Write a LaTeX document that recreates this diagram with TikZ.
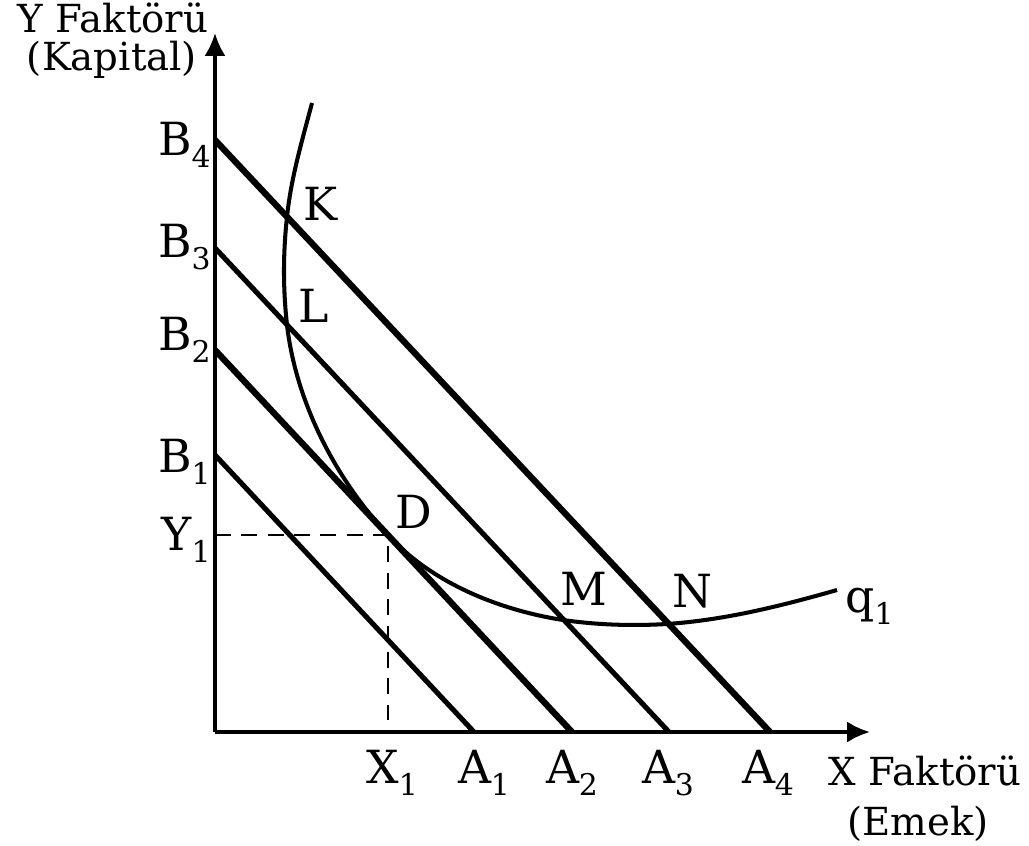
\documentclass[tikz,border=0pt]{standalone}
\usepackage{fontspec}
\setmainfont{DejaVu Serif}
\usetikzlibrary{arrows.meta}
\newcommand{\lowsub}[1]{\raisebox{-7pt}{\fontsize{17}{17}\selectfont #1}}

\begin{document}
\begin{tikzpicture}[x=0.02cm, y=-0.02cm,
        axis/.style={line width=2pt, -{Latex[length=13pt, width=12pt]}},
        heavy/.style={line width=3.6pt},
        light/.style={line width=2.9pt},
        lbl/.style={font=\fontsize{26}{30}\selectfont, inner sep=0pt},
        axislbl/.style={font=\fontsize{22}{26}\selectfont, inner sep=0pt}]
    \useasboundingbox (0,0) rectangle (1029,846);
    % Axes
        \coordinate (O) at (215,732);
        \coordinate (ytip) at (215,33);
        \coordinate (xtip) at (870,732);
        \draw[axis] (O) -- (ytip);
        \draw[axis] (O) -- (xtip);
    % Isocost lines
        \coordinate (B4) at (215,140);
        \coordinate (B3) at (215,248);
        \coordinate (B2) at (215,350);
        \coordinate (B1) at (215,455);
        \coordinate (A4) at (770,732);
        \coordinate (A3) at (669,732);
        \coordinate (A2) at (572,732);
        \coordinate (A1) at (474,732);
        \draw[heavy] (B4) -- (A4);
        \draw[light] (B3) -- (A3);
        \draw[heavy] (B2) -- (A2);
        \draw[light] (B1) -- (A1);
    % Isoquant q1
        \coordinate (top) at (312,103);
        \coordinate (K) at (287,217);
        \coordinate (L) at (287,325);
        \coordinate (D) at (388,535);
        \coordinate (M) at (563,620);
        \coordinate (N) at (667,624);
        \coordinate (end) at (837,590);
        \draw[line width=2.3pt] (top) .. controls (302,141) and (291,178) .. (K)
            .. controls (283,253) and (283,289) .. (L)
            .. controls (296,402) and (335,478) .. (D)
            .. controls (432,583) and (499,610) .. (M)
            .. controls (598,625) and (632,626) .. (N)
            .. controls (725,620) and (781,606) .. (end);
    % Optimum
        \coordinate (y1) at (215,535);
        \coordinate (x1) at (388,732);
        \draw[line width=1.5pt, dash pattern=on 9pt off 6pt] (y1) -- (D) -- (x1);
    % Labels
        \node[axislbl, anchor=base] (ytitle) at (113,32) {Y Faktörü};
        \node[axislbl, anchor=base] (ysub) at (112,70) {(Kapital)};
        \node[axislbl, anchor=base] (xtitle) at (925,785) {X Faktörü};
        \node[axislbl, anchor=base] (xsub) at (918,835) {(Emek)};
        \node[lbl, anchor=base east] (b4) at (211,155) {B\lowsub{4}};
        \node[lbl, anchor=base east] (b3) at (211,257) {B\lowsub{3}};
        \node[lbl, anchor=base east] (b2) at (211,350) {B\lowsub{2}};
        \node[lbl, anchor=base east] (b1) at (211,472) {B\lowsub{1}};
        \node[lbl, anchor=base east] (ylbl) at (211,550) {Y\lowsub{1}};
        \node[lbl, anchor=base] (xlbl) at (392,783) {X\lowsub{1}};
        \node[lbl, anchor=base] (a1) at (484,783) {A\lowsub{1}};
        \node[lbl, anchor=base] (a2) at (572,783) {A\lowsub{2}};
        \node[lbl, anchor=base] (a3) at (668,783) {A\lowsub{3}};
        \node[lbl, anchor=base] (a4) at (768,783) {A\lowsub{4}};
        \node[lbl, anchor=base west] (k) at (303,220) {K};
        \node[lbl, anchor=base west] (l) at (298,322) {L};
        \node[lbl, anchor=base west] (d) at (395,528) {D};
        \node[lbl, anchor=base west] (m) at (560,605) {M};
        \node[lbl, anchor=base west] (n) at (672,607) {N};
        \node[lbl, anchor=base west] (q) at (845,612) {q\lowsub{1}};
\end{tikzpicture}
\end{document}
